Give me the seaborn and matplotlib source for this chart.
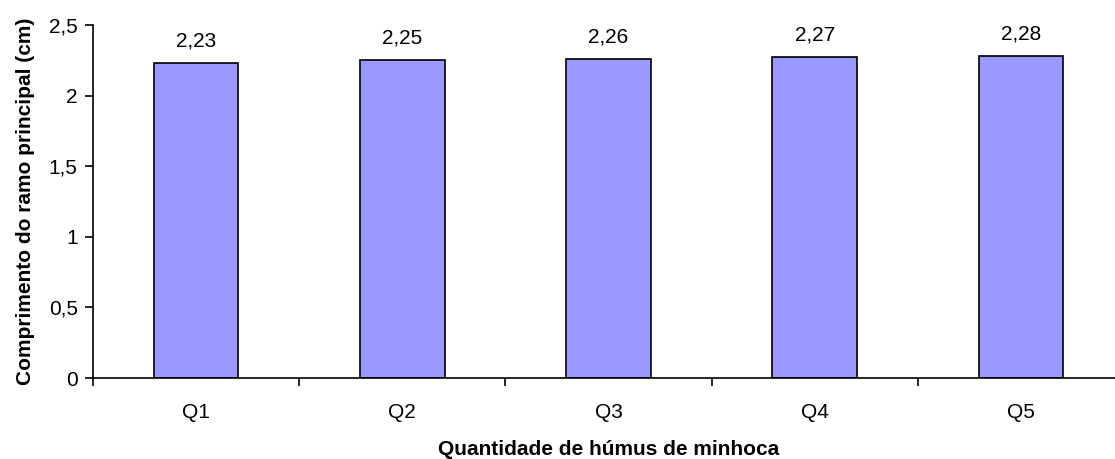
import matplotlib
matplotlib.use("Agg")
import matplotlib.pyplot as plt
import seaborn as sns
import pandas as pd

categorias = ["Q1", "Q2", "Q3", "Q4", "Q5"]
comprimento = [2.23, 2.25, 2.26, 2.27, 2.28]
rotulos = ["2,23", "2,25", "2,26", "2,27", "2,28"]
yticks = [0, 0.5, 1, 1.5, 2, 2.5]
ytick_labels = ["0", "0,5", "1", "1,5", "2", "2,5"]

sns.set_theme(style="ticks")
plt.rcParams["font.family"] = ["Liberation Sans", "DejaVu Sans"]
plt.rcParams["text.color"] = "black"
plt.rcParams["axes.labelcolor"] = "black"
plt.rcParams["xtick.color"] = "black"
plt.rcParams["ytick.color"] = "black"

FS = 15

df = pd.DataFrame({"quantidade": categorias, "comprimento": comprimento})

fig = plt.figure(figsize=(11.15, 4.59), dpi=100)
ax = fig.add_axes([93 / 1115, 1 - 378 / 459, (1124 - 93) / 1115, (378 - 25) / 459])

sns.barplot(data=df, x="quantidade", y="comprimento", color="#9999FF",
            saturation=1, width=0.41, edgecolor="black", linewidth=1.2, ax=ax)

for i, (v, t) in enumerate(zip(comprimento, rotulos)):
    ax.annotate(t, (i, v), xytext=(0, 9), textcoords="offset points",
                ha="center", va="bottom", fontsize=FS, color="black")

ax.set_xlim(-0.5, 4.5)
ax.set_ylim(0, 2.5)
ax.set_yticks(yticks)
ax.set_yticklabels(ytick_labels, fontsize=FS)
ax.set_xticks(range(len(categorias)))
ax.set_xticklabels(categorias, fontsize=FS)
ax.tick_params(axis="x", which="major", bottom=True, length=0, pad=18)
ax.set_xticks([-0.5, 0.5, 1.5, 2.5, 3.5, 4.5], minor=True)
ax.tick_params(axis="x", which="minor", bottom=True, length=6, width=1.2,
               color="black", direction="out")
ax.tick_params(axis="y", left=True, length=6, width=1.2, color="black",
               direction="out", pad=5)

for s in ["top", "right"]:
    ax.spines[s].set_visible(False)
for s in ["left", "bottom"]:
    ax.spines[s].set_color("black")
    ax.spines[s].set_linewidth(1.2)

ax.set_xlabel("Quantidade de húmus de minhoca", fontsize=FS, fontweight="bold", labelpad=13)
ax.set_ylabel("Comprimento do ramo principal (cm)", fontsize=FS, fontweight="bold", labelpad=10)

fig.savefig("out.png", dpi=100)
